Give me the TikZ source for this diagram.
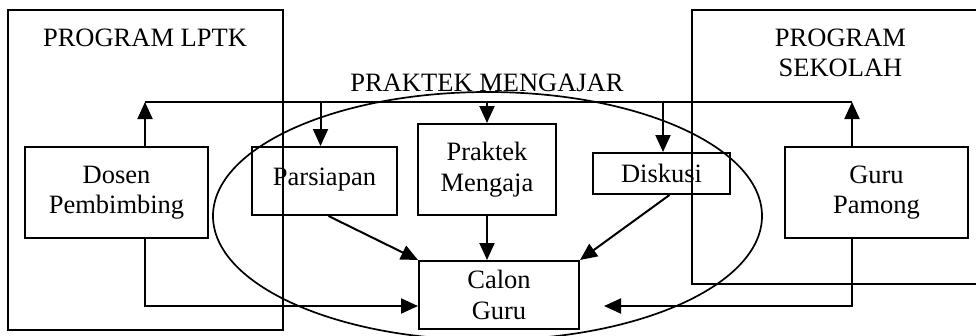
\documentclass[tikz,border=0pt]{standalone}
\usepackage{fontspec}
\setmainfont{Liberation Serif}
\usetikzlibrary{arrows.meta,shapes.geometric}
\begin{document}
\begin{tikzpicture}[x=1pt,y=-1pt,
  txt/.style={font=\fontsize{26.5}{30.5}\selectfont},
  box/.style={draw,line width=2pt,inner sep=0pt,align=center,txt},
  lbl/.style={inner sep=0pt,align=center,txt},
  conn/.style={line width=2pt},
  arr/.style={conn,-{Triangle[length=17pt,width=15pt]}},
  ]
\useasboundingbox (0,0) rectangle (976,335);
% program boxes
\node[box,minimum width=275pt,minimum height=320pt] (lptk) at (145.5,170) {};
\node[box,minimum width=288pt,minimum height=274pt] (sekolah) at (836,147) {};
\node[lbl] (lptkt) at (145,38) {PROGRAM LPTK};
\node[lbl] (sekolaht) at (840.5,53) {PROGRAM\\SEKOLAH};
% ellipse
\node[draw,ellipse,line width=1.7pt,inner sep=0pt,minimum width=549pt,minimum height=248pt] (pm) at (487.5,216) {};
\node[lbl] (pmt) at (487,83) {PRAKTEK MENGAJAR};
% inner boxes
\node[box,minimum width=183pt,minimum height=91pt] (dosen) at (116.5,192.5) {Dosen\\Pembimbing};
\node[box,minimum width=145pt,minimum height=68pt,text depth=9pt] (pars) at (324.5,181) {Parsiapan};
\node[box,minimum width=138pt,minimum height=91pt] (prak) at (487,169.5) {Praktek\\Mengaja};
\node[box,minimum width=137pt,minimum height=41pt] (disk) at (661.5,173.5) {Diskusi};
\node[box,minimum width=160pt,minimum height=68pt] (calon) at (499,295) {Calon\\Guru};
\node[box,minimum width=183pt,minimum height=91pt] (guru) at (876.5,192.5) {Guru\\Pamong};
% corner coordinates
\coordinate (tl) at (145,102);
\coordinate (tr) at (852,102);
\coordinate (bl) at (145,306);
\coordinate (br) at (852,306);
% connectors
\draw[arr] (dosen.north -| tl) -- (tl);
\draw[conn] (tl) -- (tr);
\draw[arr] (guru.north -| tr) -- (tr);
\draw[arr] ([xshift=-4pt]pars.north |- tl) -- ([xshift=-4pt]pars.north);
\draw[arr] (prak.north |- tl) -- (prak.north);
\draw[arr] ([xshift=1.5pt]disk.north |- tl) -- ([xshift=1.5pt]disk.north);
\draw[arr] (dosen.south -| bl) -- (bl) -- (calon.west |- bl);
\draw[arr] (guru.south -| br) -- (br) -- ([xshift=24pt]calon.east |- br);
\draw[arr] ([xshift=4pt]pars.south) -- (calon.north west);
\draw[arr] (prak.south) -- (prak.south |- calon.north);
\draw[arr] ([xshift=8pt]disk.south) -- (calon.north east);
\end{tikzpicture}
\end{document}
